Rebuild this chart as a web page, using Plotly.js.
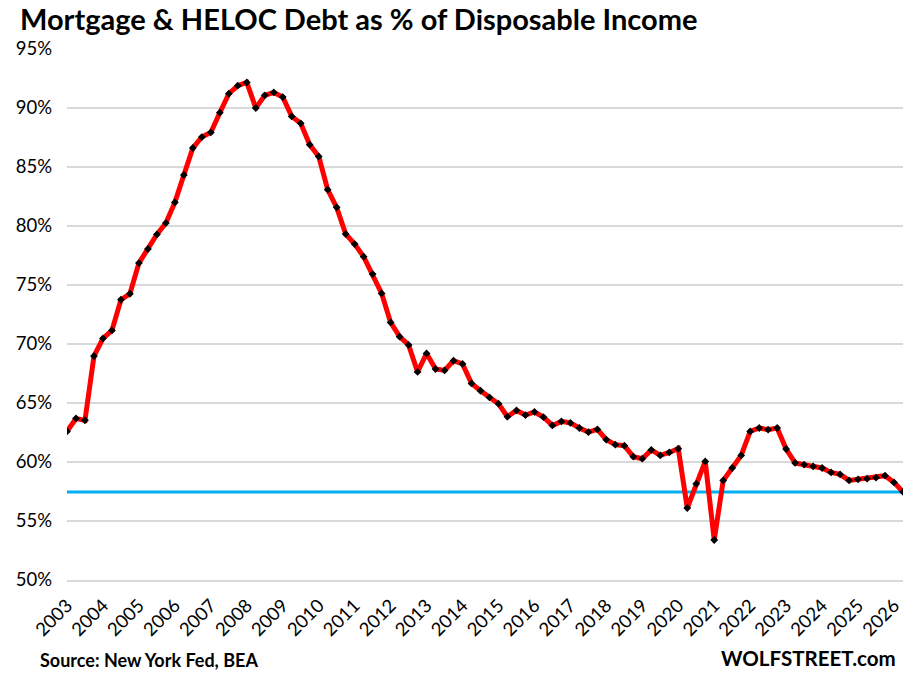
<!DOCTYPE html>
<html>
<head>
<meta charset="utf-8">
<script src="https://cdn.plot.ly/plotly-3.0.1.min.js"></script>
<style>html,body{margin:0;padding:0;background:#fff;}#chart{width:912px;height:675px;}</style>
</head>
<body>
<div id="chart"></div>
<script>
const titleText = "Mortgage & HELOC Debt as % of Disposable Income";
const sourceText = "Source: New York Fed, BEA";
const brandText = "WOLFSTREET.com";
const yearLabels = ["2003","2004","2005","2006","2007","2008","2009","2010","2011","2012","2013","2014","2015","2016","2017","2018","2019","2020","2021","2022","2023","2024","2025","2026"];
const quartersPerLabel = 4;
const debtPct = [62.59,63.69,63.53,68.98,70.47,71.15,73.75,74.26,76.86,78.05,
  79.29,80.25,82.0,84.32,86.61,87.54,87.93,89.60,91.21,91.89,
  92.17,90.0,91.07,91.32,90.93,89.29,88.7,86.89,85.90,83.08,
  81.58,79.32,78.47,77.40,75.93,74.29,71.83,70.62,69.92,67.63,
  69.2,67.88,67.76,68.58,68.31,66.66,66.04,65.47,64.94,63.84,
  64.37,63.98,64.24,63.81,63.10,63.44,63.31,62.88,62.54,62.76,
  61.89,61.47,61.38,60.45,60.28,61.02,60.56,60.81,61.13,56.10,
  58.15,60.05,53.39,58.44,59.49,60.56,62.59,62.88,62.74,62.88,
  61.10,59.92,59.77,59.63,59.49,59.12,58.95,58.44,58.53,58.59,
  58.67,58.84,58.27,57.46];
const yTicks = [50,55,60,65,70,75,80,85,90,95];

const FONT = "Lato, 'Open Sans', sans-serif";
const latest = debtPct[debtPct.length-1];

const trace = {
  y: debtPct,
  type: 'scatter',
  mode: 'lines+markers',
  line: {color: '#FF0000', width: 5},
  marker: {symbol: 'diamond', color: '#000000', size: 6},
  hoverinfo: 'y'
};

const layout = {
  width: 912, height: 675,
  margin: {l: 67, r: 9, t: 49, b: 95},
  paper_bgcolor: '#ffffff', plot_bgcolor: '#ffffff',
  showlegend: false,
  font: {family: FONT, color: '#000'},
  title: {
    text: '<b>' + titleText.replace('&','&amp;') + '</b>',
    font: {family: FONT, size: 29, color: '#000'},
    xref: 'container', yref: 'container',
    x: 20/912, xanchor: 'left', y: 1 - 20/675, yanchor: 'middle'
  },
  xaxis: {
    range: [0, debtPct.length - 1],
    tickmode: 'array',
    tickvals: yearLabels.map((_, i) => i * quartersPerLabel),
    ticktext: yearLabels,
    tickangle: -45,
    tickfont: {family: FONT, size: 18.5, color: '#000'},
    showgrid: false, zeroline: false,
    showline: true, linecolor: '#d9d9d9', linewidth: 1.5,
    ticks: '', ticklabelstandoff: 6
  },
  yaxis: {
    range: [50, 95],
    tickmode: 'array',
    tickvals: yTicks,
    ticktext: yTicks.map(v => v + '%'),
    tickfont: {family: FONT, size: 18.5, color: '#000'},
    showgrid: true, gridcolor: '#d9d9d9', gridwidth: 1.5,
    zeroline: false, showline: false, ticks: '', ticklabelstandoff: 14
  },
  shapes: [{
    type: 'line', xref: 'paper', yref: 'y',
    x0: 0, x1: 1, y0: latest, y1: latest,
    line: {color: '#00B0F0', width: 3}, layer: 'below'
  }],
  annotations: [
    {text: '<b>' + sourceText + '</b>', xref: 'paper', yref: 'paper', x: -29/836, y: -80/531,
     xanchor: 'left', yanchor: 'middle', showarrow: false, font: {family: FONT, size: 18, color: '#000'}},
    {text: '<b>' + brandText + '</b>', xref: 'paper', yref: 'paper', x: (898-67)/836, y: -78/531,
     xanchor: 'right', yanchor: 'middle', showarrow: false, font: {family: FONT, size: 20.5, color: '#000'}}
  ]
};

Plotly.newPlot('chart', [trace], layout, {displayModeBar: false, staticPlot: true});
</script>
</body>
</html>
